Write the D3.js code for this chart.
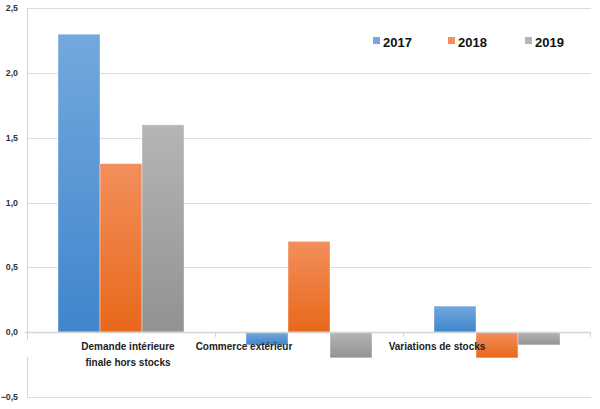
<!DOCTYPE html>
<html><head><meta charset="utf-8">
<script src="https://cdn.jsdelivr.net/npm/d3@7"></script>
<style>html,body{margin:0;padding:0;background:#fff;}svg{display:block;}</style>
</head><body>
<svg id="c" width="600" height="409"></svg>
<script>
const categories = ["Demande intérieure finale hors stocks", "Commerce extérieur", "Variations de stocks"];
const categoryLines = [["Demande intérieure", "finale hors stocks"], ["Commerce extérieur"], ["Variations de stocks"]];
const series = ["2017", "2018", "2019"];
const values2017 = [2.3, -0.1, 0.2];
const values2018 = [1.3, 0.7, -0.2];
const values2019 = [1.6, -0.2, -0.1];
const yTicks = [-0.5, 0, 0.5, 1, 1.5, 2, 2.5];

const seriesValues = [values2017, values2018, values2019];
const colors = [
  ["#74a8de", "#3f86cc"],
  ["#f28f5c", "#e8681a"],
  ["#b5b5b5", "#929292"]
];
const labelDx = [7, -65, -60];

const svg = d3.select("#c");
const x = d3.scaleBand().domain(categories).range([27, 591]).paddingInner(0).paddingOuter(0);
const xs = d3.scaleBand().domain(series).range([0, x.bandwidth()]).paddingInner(0).paddingOuter(0.738);
const y = d3.scaleLinear().domain([-0.5, 2.5]).range([396.7, 8.3]);

const defs = svg.append("defs");
series.forEach((s, i) => {
  const g = defs.append("linearGradient").attr("id", "g" + i).attr("x1", 0).attr("y1", 0).attr("x2", 0).attr("y2", 1);
  g.append("stop").attr("offset", "0%").attr("stop-color", colors[i][0]);
  g.append("stop").attr("offset", "100%").attr("stop-color", colors[i][1]);
});

// gridlines
svg.append("g").selectAll("line").data(yTicks.filter(t => t !== 0)).join("line")
  .attr("x1", x.range()[0]).attr("x2", x.range()[1])
  .attr("y1", d => Math.round(y(d)) + 0.5).attr("y2", d => Math.round(y(d)) + 0.5)
  .attr("stroke", "#dcdcdc").attr("stroke-width", 1);

// y axis line
svg.append("line").attr("x1", 27.5).attr("x2", 27.5).attr("y1", y(2.5)).attr("y2", y(-0.5))
  .attr("stroke", "#d4d4d4").attr("stroke-width", 1);

// tick labels
svg.append("g").selectAll("text").data(yTicks).join("text")
  .attr("x", 18).attr("y", d => y(d)).attr("dy", "0.35em")
  .attr("text-anchor", "end")
  .attr("font-family", "Liberation Sans, Arial, sans-serif").attr("font-size", 8.8).attr("font-weight", "bold")
  .attr("fill", "#333")
  .text(d => d3.format(".1f")(d).replace(".", ","));

// bars
const groups = svg.append("g").selectAll("g").data(categories).join("g")
  .attr("transform", d => `translate(${x(d)},0)`);
groups.selectAll("rect").data((c, ci) => series.map((s, si) => ({s, si, v: seriesValues[si][ci]}))).join("rect")
  .attr("x", d => xs(d.s)).attr("width", xs.bandwidth())
  .attr("y", d => y(Math.max(0, d.v))).attr("height", d => Math.abs(y(d.v) - y(0)))
  .attr("fill", d => `url(#g${d.si})`)
  .attr("stroke", "rgba(255,255,255,0.5)").attr("stroke-width", 0.8);

// zero axis line
svg.append("line").attr("x1", x.range()[0] - 2).attr("x2", x.range()[1])
  .attr("y1", y(0) + 0.5).attr("y2", y(0) + 0.5)
  .attr("stroke", "#d4d4d4").attr("stroke-width", 1.5);
svg.append("g").selectAll("line").data(categories.concat(["end"])).join("line")
  .attr("x1", (d, i) => i < categories.length ? x(d) + 0.5 : x.range()[1] - 0.5)
  .attr("x2", (d, i) => i < categories.length ? x(d) + 0.5 : x.range()[1] - 0.5)
  .attr("y1", y(0)).attr("y2", y(0) + 5)
  .attr("stroke", "#d4d4d4").attr("stroke-width", 1);

// white label background covering axis
svg.append("rect").attr("x", x.range()[0] - 3).attr("width", 6)
  .attr("y", y(0) + 8).attr("height", 17).attr("fill", "#fff");

// category labels
svg.append("g").selectAll("text").data(categories).join("text")
  .attr("x", (d, i) => x(d) + x.bandwidth() / 2 + labelDx[i])
  .attr("y", y(0) + 18)
  .attr("text-anchor", "middle")
  .attr("font-family", "Liberation Sans, Arial, sans-serif").attr("font-size", 10).attr("font-weight", "bold")
  .attr("fill", "#222")
  .selectAll("tspan").data((d, i) => categoryLines[i]).join("tspan")
  .attr("x", function() { return this.parentNode.getAttribute("x"); })
  .attr("dy", (d, j) => j === 0 ? 0 : 16)
  .text(d => d);

// legend
const legendX = [373, 448, 525];
const lg = svg.append("g").selectAll("g").data(series).join("g")
  .attr("transform", (d, i) => `translate(${legendX[i]},37)`);
lg.append("rect").attr("width", 7).attr("height", 7).attr("fill", (d, i) => colors[i][0]);
lg.append("text").attr("x", 10).attr("y", 10)
  .attr("font-family", "Liberation Sans, Arial, sans-serif").attr("font-size", 13).attr("font-weight", "bold")
  .attr("fill", "#111").text(d => d);
</script>
</body></html>
